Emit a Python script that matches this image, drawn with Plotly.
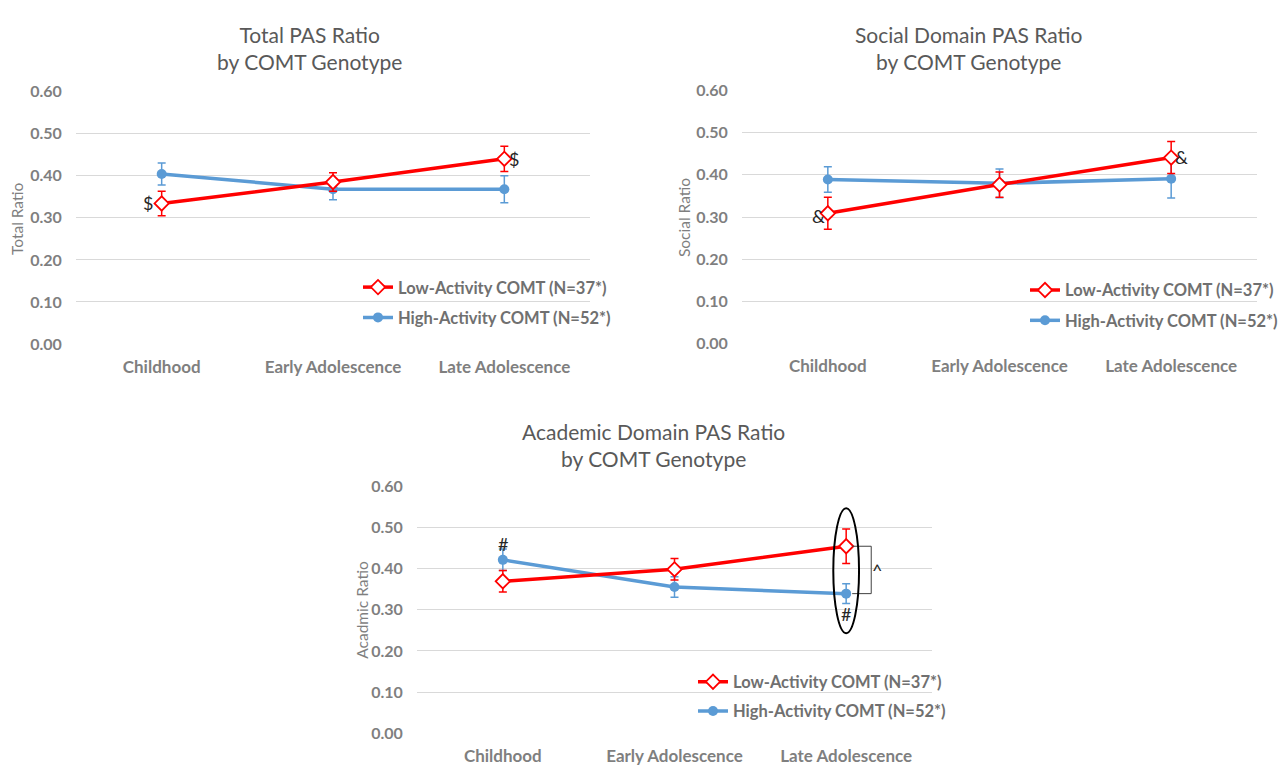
import plotly.graph_objects as go

# Developmental stages shown on every x axis
stages = ["Childhood", "Early Adolescence", "Late Adolescence"]

# Total PAS ratio
total_low = [0.334, 0.385, 0.440]
total_low_err = [0.029, 0.022, 0.030]
total_high = [0.404, 0.368, 0.368]
total_high_err = [0.026, 0.025, 0.032]

# Social domain PAS ratio
social_low = [0.309, 0.377, 0.441]
social_low_err = [0.038, 0.030, 0.038]
social_high = [0.389, 0.380, 0.391]
social_high_err = [0.030, 0.034, 0.046]

# Academic domain PAS ratio
acad_low = [0.369, 0.398, 0.454]
acad_low_err = [0.026, 0.026, 0.042]
acad_high = [0.421, 0.355, 0.339]
acad_high_err = [0.026, 0.025, 0.024]

low_name = "Low-Activity COMT (N=37*)"
high_name = "High-Activity COMT (N=52*)"

RED = "#ff0000"
BLUE = "#5b9bd5"
GRID = "#d9d9d9"
TICK = "#7f7f7f"
LEG = "#707070"
TITLE = "#595959"
FONT = "Lato"

W, H = 1288, 773


def px_x(p):
    return p / W


def px_y(p):
    return 1 - p / H


fig = go.Figure()

panels = [
    # (suffix, low, low_err, high, high_err, legend ids)
    ("", total_low, total_low_err, total_high, total_high_err, ("legend", "legend2")),
    ("2", social_low, social_low_err, social_high, social_high_err, ("legend3", "legend4")),
    ("3", acad_low, acad_low_err, acad_high, acad_high_err, ("legend5", "legend6")),
]

for suf, lo, lo_e, hi, hi_e, (lg_lo, lg_hi) in panels:
    fig.add_trace(go.Scatter(
        x=stages, y=hi, name=high_name, mode="lines+markers",
        xaxis="x" + suf, yaxis="y" + suf, legend=lg_hi,
        line=dict(color=BLUE, width=3.5),
        marker=dict(symbol="circle", size=10, color=BLUE),
        error_y=dict(type="data", array=hi_e, color=BLUE, thickness=1.5, width=4),
    ))
    fig.add_trace(go.Scatter(
        x=stages, y=lo, name=low_name, mode="lines+markers",
        xaxis="x" + suf, yaxis="y" + suf, legend=lg_lo,
        line=dict(color=RED, width=3.5),
        marker=dict(symbol="diamond", size=11, color="white",
                    line=dict(color=RED, width=1.8)),
        error_y=dict(type="data", array=lo_e, color=RED, thickness=1.5, width=4),
    ))

x_domains = {
    "": (px_x(76), px_x(590)),
    "2": (px_x(742), px_x(1257)),
    "3": (px_x(417), px_x(932)),
}
y_domains = {
    "": (px_y(342.5), px_y(83)),
    "2": (px_y(342), px_y(82)),
    "3": (px_y(741), px_y(487)),
}

layout = dict(
    width=W, height=H,
    margin=dict(l=0, r=0, t=0, b=0),
    paper_bgcolor="white", plot_bgcolor="white",
    font=dict(family=FONT, color=TICK),
    showlegend=True,
)

for suf in ["", "2", "3"]:
    layout["xaxis" + suf] = dict(
        domain=x_domains[suf], anchor="y" + suf, type="category",
        range=[-0.5, 2.5], showgrid=False, zeroline=False, showline=False,
        ticks="outside", ticklen=7, tickcolor="rgba(0,0,0,0)",
        tickfont=dict(family=FONT, size=17, color=TICK, weight="bold"),
        fixedrange=True,
    )
    layout["yaxis" + suf] = dict(
        domain=y_domains[suf], anchor="x" + suf,
        range=[-0.001, 0.601], dtick=0.1, tick0=0, tickformat=".2f",
        showgrid=True, gridcolor=GRID, gridwidth=1.3,
        zeroline=False, showline=False,
        ticks="outside", ticklen=10, tickcolor="rgba(0,0,0,0)",
        tickfont=dict(family=FONT, size=16, color=TICK, weight="bold"),
        fixedrange=True,
    )

legend_pos = {
    "legend": (358, 284), "legend2": (358, 315),
    "legend3": (1025, 287), "legend4": (1025, 318),
    "legend5": (693, 688), "legend6": (693, 718),
}
for name, (lx, ly) in legend_pos.items():
    layout[name] = dict(
        x=px_x(lx), y=px_y(ly), xanchor="left", yanchor="middle",
        bgcolor="rgba(0,0,0,0)", borderwidth=0,
        font=dict(family=FONT, size=16.5, color=LEG, weight="bold"),
    )

fig.update_layout(**layout)

# Chart titles
titles = [
    ("Total PAS Ratio<br>by COMT Genotype", 309, 39),
    ("Social Domain PAS Ratio<br>by COMT Genotype", 968, 39),
    ("Academic Domain PAS Ratio<br>by COMT Genotype", 653, 445),
]
for text, cx, cy in titles:
    fig.add_annotation(
        text=text, x=px_x(cx), y=px_y(cy), xref="paper", yref="paper",
        showarrow=False, xanchor="center", yanchor="middle",
        font=dict(family=FONT, size=21, color=TITLE),
    )

# Y axis titles
ytitles = [("Total Ratio", 17, 214), ("Social Ratio", 684, 212), ("Acadmic Ratio", 362, 614)]
for text, cx, cy in ytitles:
    fig.add_annotation(
        text=text, x=px_x(cx), y=px_y(cy), xref="paper", yref="paper",
        showarrow=False, textangle=-90, xanchor="center", yanchor="middle",
        font=dict(family=FONT, size=15.5, color=TICK),
    )

# Significance markers next to the data points
MARK = dict(family=FONT, size=18, color="#262626")
fig.add_annotation(x=0, y=total_low[0], xref="x", yref="y", text="$",
                   showarrow=False, xshift=-14, font=MARK)
fig.add_annotation(x=2, y=total_low[2], xref="x", yref="y", text="$",
                   showarrow=False, xshift=10, font=MARK)
fig.add_annotation(x=0, y=social_low[0], xref="x2", yref="y2", text="&",
                   showarrow=False, xshift=-9, yshift=-3, font=MARK)
fig.add_annotation(x=2, y=social_low[2], xref="x2", yref="y2", text="&",
                   showarrow=False, xshift=10, yshift=1, font=MARK)
fig.add_annotation(x=0, y=acad_high[0], xref="x3", yref="y3", text="#",
                   showarrow=False, yshift=16, font=MARK)
fig.add_annotation(x=2, y=acad_high[2], xref="x3", yref="y3", text="#",
                   showarrow=False, yshift=-20, font=MARK)

# Bracket comparing the two genotypes in late adolescence
bx0, bx1 = 2.035, 2.146
fig.add_shape(type="line", xref="x3", yref="y3", x0=bx0, x1=bx1,
              y0=acad_low[2], y1=acad_low[2], line=dict(color="#404040", width=1))
fig.add_shape(type="line", xref="x3", yref="y3", x0=bx1, x1=bx1,
              y0=acad_low[2], y1=acad_high[2], line=dict(color="#404040", width=1))
fig.add_shape(type="line", xref="x3", yref="y3", x0=bx0, x1=bx1,
              y0=acad_high[2], y1=acad_high[2], line=dict(color="#404040", width=1))
fig.add_annotation(x=2.18, y=(acad_low[2] + acad_high[2]) / 2, xref="x3", yref="y3",
                   text="^", showarrow=False, font=MARK)

# Ellipse around the late-adolescence academic values
fig.add_shape(type="circle", xref="x3", yref="y3",
              x0=2 - 0.075, x1=2 + 0.075, y0=0.243, y1=0.546,
              line=dict(color="black", width=2))

fig.write_html("out.html")
